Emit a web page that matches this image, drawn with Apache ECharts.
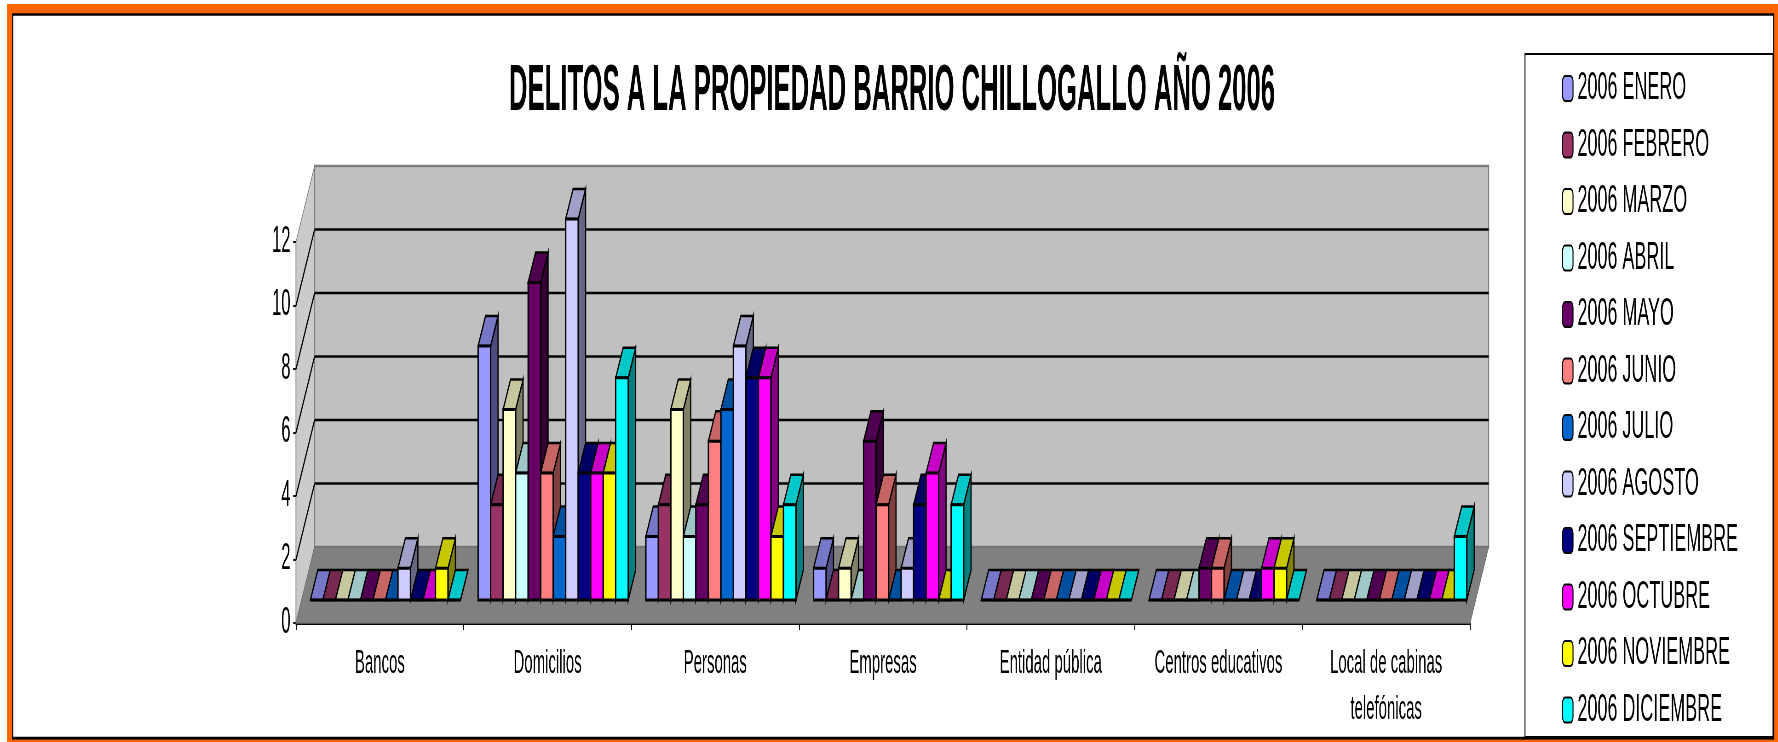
<!DOCTYPE html>
<html>
<head>
<meta charset="utf-8">
<style>
html,body{margin:0;padding:0;background:#fff;overflow:hidden;width:1778px;height:742px}
#main{height:742px;transform-origin:0 0}
</style>
<script src="https://cdn.jsdelivr.net/npm/echarts@6/dist/echarts.min.js"></script>
</head>
<body>
<div id="main"></div>
<script>
const titleText = 'DELITOS A LA PROPIEDAD BARRIO CHILLOGALLO AÑO 2006';
const categories = ['Bancos','Domicilios','Personas','Empresas','Entidad pública','Centros educativos','Local de cabinas\ntelefónicas'];
const monthNames = ['2006 ENERO','2006 FEBRERO','2006 MARZO','2006 ABRIL','2006 MAYO','2006 JUNIO','2006 JULIO','2006 AGOSTO','2006 SEPTIEMBRE','2006 OCTUBRE','2006 NOVIEMBRE','2006 DICIEMBRE'];
const monthColors = ['#9999FF','#993366','#FFFFCC','#CCFFFF','#660066','#FF8080','#0066CC','#CCCCFF','#000080','#FF00FF','#FFFF00','#00FFFF'];
const enero      = [0,8,2,1,0,0,0];
const febrero    = [0,3,3,0,0,0,0];
const marzo      = [0,6,6,1,0,0,0];
const abril      = [0,4,2,0,0,0,0];
const mayo       = [0,10,3,5,0,1,0];
const junio      = [0,4,5,3,0,1,0];
const julio      = [0,2,6,0,0,0,0];
const agosto     = [1,12,8,1,0,0,0];
const septiembre = [0,4,7,3,0,0,0];
const octubre    = [0,4,7,4,0,1,0];
const noviembre  = [1,4,2,0,0,1,0];
const diciembre  = [0,7,3,3,0,0,2];
const monthValues = [enero,febrero,marzo,abril,mayo,junio,julio,agosto,septiembre,octubre,noviembre,diciembre];
const yTicks = [0,2,4,6,8,10,12];

// The reference is a horizontally squeezed picture: the page is laid out wide and squeezed the same way.
const SQUEEZE = 0.46;
const px = v => v / SQUEEZE;
const W = px(1778);
const dom = document.getElementById('main');
dom.style.width = W + 'px';
dom.style.transform = 'scaleX(' + SQUEEZE + ')';

const WALL_DX = px(18.6), WALL_DY = 76;
const BAR_FX = px(5.6), BAR_FY = 23;
const BAR_DX = px(7.4), BAR_DY = 30;
const BAR_SHARE = 0.895;

function shade(hex, f){
  const n = parseInt(hex.slice(1),16);
  const c = s => Math.round(((n>>s)&255)*f);
  return 'rgb('+c(16)+','+c(8)+','+c(0)+')';
}
function poly(points, fill, stroke, lw){
  return {type:'polygon', shape:{points}, style:{fill, stroke:stroke||'#000', lineWidth:lw==null?2.6:lw, lineJoin:'miter'}};
}
function line(x1,y1,x2,y2,stroke,lw){
  return {type:'line', shape:{x1,y1,x2,y2}, style:{stroke, lineWidth:lw}};
}
function renderWalls(params, api){
  const cs = params.coordSys;
  const L = cs.x, R = cs.x + cs.width;
  const y0 = api.coord([0,0])[1], yT = api.coord([0,12])[1];
  const ch = [
    poly([[L,y0],[L+WALL_DX,y0-WALL_DY],[L+WALL_DX,yT-WALL_DY],[L,yT]],'#CBCBCB','#808080',1.5),
    poly([[L+WALL_DX,y0-WALL_DY],[R+WALL_DX,y0-WALL_DY],[R+WALL_DX,yT-WALL_DY],[L+WALL_DX,yT-WALL_DY]],'#C0C0C0','#808080',2.4),
    poly([[L,y0],[R,y0],[R+WALL_DX,y0-WALL_DY],[L+WALL_DX,y0-WALL_DY]],'#808080','#707070',1.5)
  ];
  yTicks.forEach(t => {
    if (t === 0 || t === 12) return;
    const y = api.coord([0,t])[1];
    ch.push(line(L,y,L+WALL_DX,y-WALL_DY,'#000',2.4));
    ch.push(line(L+WALL_DX,y-WALL_DY,R+WALL_DX,y-WALL_DY,'#000',2.6));
  });
  return {type:'group', children:ch};
}
function makeBarRenderer(m){
  return function(params, api){
    const i = api.value(0), v = api.value(1);
    const band = api.size([1,0])[0];
    const bw = band*BAR_SHARE/12;
    const cx = api.coord([i,0])[0];
    const x0 = cx - band*BAR_SHARE/2 + m*bw + BAR_FX, x1 = x0 + bw;
    const base = api.coord([i,0])[1] - BAR_FY, top = api.coord([i,v])[1] - BAR_FY;
    const col = monthColors[m];
    return {type:'group', children:[
      poly([[x1,top],[x1+BAR_DX,top-BAR_DY],[x1+BAR_DX,base-BAR_DY],[x1,base]], shade(col,0.5)),
      poly([[x0,top],[x0+BAR_DX,top-BAR_DY],[x1+BAR_DX,top-BAR_DY],[x1,top]], shade(col,0.78)),
      poly([[x0,base],[x0,top],[x1,top],[x1,base]], col, '#000', 3)
    ]};
  };
}
const series = [{
  name:'walls', type:'custom', silent:true, z:1, clip:false,
  data:[[0,0]], encode:{x:0,y:1}, renderItem:renderWalls, tooltip:{show:false}
}].concat(monthNames.map((name,m) => ({
  name, type:'custom', z:3, clip:false,
  itemStyle:{color:monthColors[m]},
  data:monthValues[m].map((v,i)=>[i,v]),
  encode:{x:0,y:1},
  renderItem:makeBarRenderer(m)
})));

const chart = echarts.init(dom);
chart.setOption({
  animation:false,
  backgroundColor:'#fff',
  graphic:[
    {type:'rect',z:-20,shape:{x:px(7),y:4,width:px(1771),height:738},style:{fill:'#FF6600'}},
    {type:'rect',z:-19,shape:{x:px(12.7),y:14.5,width:px(1761),height:723.5},style:{fill:'#fff',stroke:'#000',lineWidth:2.5}},
    {type:'rect',z:-18,shape:{x:px(12),y:737,width:px(1762),height:2.5},style:{fill:'#000'}},
    {type:'rect',z:-18,shape:{x:px(1525),y:54,width:px(248),height:683},style:{fill:'#fff',stroke:'#000',lineWidth:2}},
    {type:'text',z:10,x:px(892),y:92,scaleX:0.8576,style:{
      text:titleText,fontFamily:'"Liberation Sans Narrow","Liberation Sans",Arial',fontWeight:'bold',fontSize:65,fill:'#000',
      textAlign:'center',textVerticalAlign:'middle'}}
  ],
  legend:{
    data:monthNames, orient:'vertical', left:px(1562), top:69, padding:0,
    itemWidth:px(10.5), itemHeight:25, itemGap:17.5, selectedMode:false,
    itemStyle:{borderColor:'#000',borderWidth:2.2},
    textStyle:{fontFamily:'"Liberation Sans",Arial',fontSize:39,color:'#000',padding:[0,0,0,px(2.2)]}
  },
  grid:{left:px(296),top:242,width:px(1174),height:381,containLabel:false},
  xAxis:{
    type:'category', data:categories, boundaryGap:true,
    axisLine:{show:true,lineStyle:{color:'#000',width:2.8}},
    axisTick:{show:true,alignWithLabel:false,interval:0,length:7,lineStyle:{color:'#000',width:2}},
    axisLabel:{interval:0,fontFamily:'"Liberation Sans",Arial',fontSize:32.5,color:'#000',lineHeight:46,margin:18},
    splitLine:{show:false}
  },
  yAxis:{
    type:'value', min:0, max:12, interval:2,
    axisLine:{show:true,lineStyle:{color:'#000',width:2.4}},
    axisTick:{show:true,length:6,lineStyle:{color:'#000',width:2}},
    axisLabel:{fontFamily:'"Liberation Sans",Arial',fontSize:36,color:'#000',margin:12,padding:[12,0,0,0]},
    splitLine:{show:false}
  },
  series
});
</script>
</body>
</html>
